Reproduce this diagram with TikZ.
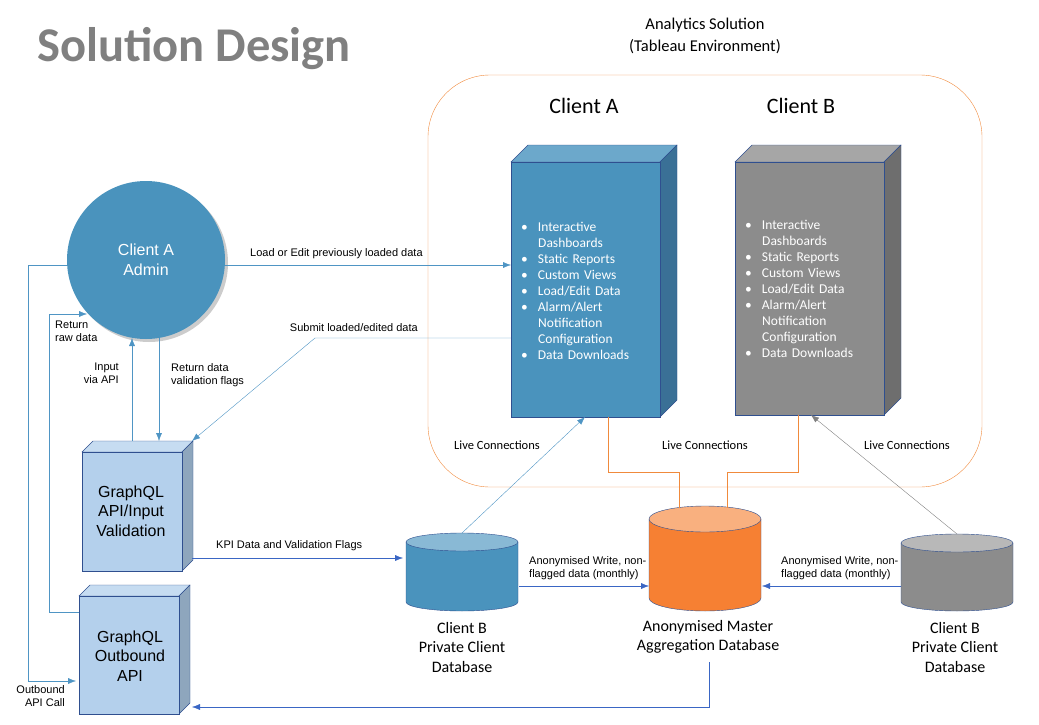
\documentclass[tikz,border=0pt]{standalone}
\usepackage{fontspec}
\setmainfont{Liberation Sans}
\newfontfamily\calfont{Carlito}
\usetikzlibrary{arrows.meta,shadows}
\definecolor{steel}{HTML}{4A93BD}
\definecolor{steeltop}{HTML}{6CA8CB}
\definecolor{steelside}{HTML}{3A7096}
\definecolor{greyfront}{HTML}{8C8C8C}
\definecolor{greytop}{HTML}{A6A6A6}
\definecolor{greyside}{HTML}{6E6E6E}
\definecolor{paleblue}{HTML}{B4D0EC}
\definecolor{paletop}{HTML}{C6DCF1}
\definecolor{paleside}{HTML}{8EA6BD}
\definecolor{edgeblue}{HTML}{2F4F8F}
\definecolor{linkblue}{HTML}{4F95C4}
\definecolor{darkblue}{HTML}{3A66C4}
\definecolor{envorange}{HTML}{F08A3C}
\definecolor{dborange}{HTML}{F68033}
\definecolor{dbtop}{HTML}{F9B07F}
\tikzset{
  lbl/.style={font=\fontsize{11}{13}\selectfont,align=left,inner sep=0pt},
  link/.style={draw=linkblue,-{Latex[length=8pt,width=6pt]}},
  dlink/.style={draw=darkblue,-{Latex[length=8pt,width=6pt]}},
  box/.style={font=\fontsize{16}{19.5}\selectfont,align=center},
  bul/.style={font=\calfont\fontsize{13.5}{16}\selectfont,text=white,align=left,inner sep=0pt,anchor=north west,text width=115pt}
}
% cuboid: name, x1, y1, x2, y2, depth, front, top, side
\newcommand{\cuboid}[9]{%
  \fill[#8,draw=edgeblue] (#2,#3) -- ++(#6,-#6) -- (#4+#6,#3-#6) -- (#4,#3) -- cycle;
  \fill[#9,draw=edgeblue] (#4,#3) -- (#4+#6,#3-#6) -- (#4+#6,#5-#6) -- (#4,#5) -- cycle;
  \node[fill=#7,draw=edgeblue,minimum width=#4pt-#2pt,minimum height=#5pt-#3pt,anchor=north west,inner sep=0pt] (#1) at (#2,#3) {};}
% drum: name, centre x, top y, bottom y, half width, ry, body, top
\newcommand{\drum}[8]{%
  \fill[#7,draw=edgeblue] (#2-#5,#3) -- (#2-#5,#4) arc[start angle=180,end angle=0,x radius=#5,y radius=#6] -- (#2+#5,#3) -- cycle;
  \fill[#8,draw=edgeblue] (#2,#3) ellipse[x radius=#5,y radius=#6];
  \coordinate (#1) at (#2,#3);}
\begin{document}
\begin{tikzpicture}[x=1pt,y=-1pt]
\useasboundingbox (0,0) rectangle (1039,725);
% title
\node[font=\calfont\bfseries\fontsize{48.5}{54}\selectfont,text=black!50,anchor=west,inner sep=0pt] (title) at (37,49) {Solution Design};
\node[font=\calfont\fontsize{16.5}{22}\selectfont,align=center] (env) at (705,36) {Analytics Solution\\(Tableau Environment)};
% environment
\draw[envorange,rounded corners=62pt] (428,75) rectangle (982,487);
\node[font=\calfont\fontsize{22}{26}\selectfont] (clientA) at (584,106) {Client A};
\node[font=\calfont\fontsize{22}{26}\selectfont] (clientB) at (801,106) {Client B};
% tableau boxes
\cuboid{tabA}{511}{162}{660}{417}{17}{steel}{steeltop}{steelside}
\cuboid{tabB}{735}{162}{884}{415}{17}{greyfront}{greytop}{greyside}
\node[bul] (listA) at (521,222) {\textbullet\hspace{10pt}Interactive\\\hspace{17pt}Dashboards\\\textbullet\hspace{10pt}Static Reports\\\textbullet\hspace{10pt}Custom Views\\\textbullet\hspace{10pt}Load/Edit Data\\\textbullet\hspace{10pt}Alarm/Alert\\\hspace{17pt}Notification\\\hspace{17pt}Configuration\\\textbullet\hspace{10pt}Data Downloads};
\node[bul] (listB) at (745,220) {\textbullet\hspace{10pt}Interactive\\\hspace{17pt}Dashboards\\\textbullet\hspace{10pt}Static Reports\\\textbullet\hspace{10pt}Custom Views\\\textbullet\hspace{10pt}Load/Edit Data\\\textbullet\hspace{10pt}Alarm/Alert\\\hspace{17pt}Notification\\\hspace{17pt}Configuration\\\textbullet\hspace{10pt}Data Downloads};
% admin
\node[circle,fill=steel,minimum size=158pt,drop shadow={shadow xshift=3pt,shadow yshift=-3pt,fill=black!40},font=\fontsize{16}{19.5}\selectfont,text=white,align=center] (admin) at (146,260) {Client A\\Admin};
% api boxes
\cuboid{valid}{82}{452}{182}{571}{11}{paleblue}{paletop}{paleside}
\node[box] (validtxt) at (131,511) {GraphQL\\API/Input\\Validation};
\cuboid{outb}{79}{596}{179}{714}{11}{paleblue}{paletop}{paleside}
\node[box] (outbtxt) at (130,656) {GraphQL\\Outbound\\API};
% databases
\drum{dbB}{462}{542}{602}{56}{9}{steel}{steeltop!80!white}
\drum{dbM}{705}{519}{598}{56}{13}{dborange}{dbtop}
\drum{dbC}{957}{543}{602}{56}{9}{greyfront}{greytop!80!white}
\node[font=\calfont\fontsize{16}{19.5}\selectfont,align=center] (dbBtxt) at (462,647) {Client B\\Private Client\\Database};
\node[font=\calfont\fontsize{16}{19.5}\selectfont,align=center] (dbMtxt) at (708,637) {Anonymised Master\\Aggregation Database};
\node[font=\calfont\fontsize{16}{19.5}\selectfont,align=center] (dbCtxt) at (955,647) {Client B\\Private Client\\Database};
% live connections
\draw[envorange] (608,417) -- (608,472) -- (679,472) -- (679,508);
\draw[envorange] (798,415) -- (798,472) -- (727,472) -- (727,508);
\draw[link] (462,533) -- (585,417);
\draw[draw=gray,-{Latex[length=8pt,width=6pt]}] (957,534) -- (811,415);
\node[font=\calfont\fontsize{12.5}{15}\selectfont] (live1) at (497,445) {Live Connections};
\node[font=\calfont\fontsize{12.5}{15}\selectfont] (live2) at (705,445) {Live Connections};
\node[font=\calfont\fontsize{12.5}{15}\selectfont] (live3) at (907,445) {Live Connections};
% admin links
\coordinate (loadL) at (225,265);
\draw[link] (loadL) -- (511,265);
\node[lbl,anchor=south west] (loadtxt) at (250,259) {Load or Edit previously loaded data};
\draw[link] (511,338) -- (315,338) -- (192,441);
\node[lbl,anchor=south east] (subtxt) at (418,332) {Submit loaded/edited data};
\draw[link] (132,441) -- (132,338);
\node[lbl,anchor=north east,align=right] (inptxt) at (119,363) {Input\\via API};
\draw[link] (159,338) -- (159,441);
\node[lbl,anchor=north west] (rettxt) at (171,363) {Return data\\validation flags};
\draw[link] (67,265) -- (28,265) -- (28,681) -- (76,681);
\node[lbl,anchor=north east,align=right] (calltxt) at (65,685) {Outbound\\API Call};
\draw[link] (79,612) -- (49,612) -- (49,314) -- (87,314);
\node[lbl,anchor=north west] (rawtxt) at (55,321) {Return\\raw data};
% data flows
\draw[dlink] (192,558) -- (403,558);
\node[lbl,anchor=south west] (kpitxt) at (216,551) {KPI Data and Validation Flags};
\draw[dlink] (519,586) -- (649,586);
\node[lbl,anchor=south west] (anon1) at (529,580) {Anonymised Write, non-\\flagged data (monthly)};
\draw[dlink] (901,586) -- (762,586);
\node[lbl,anchor=south west] (anon2) at (781,580) {Anonymised Write, non-\\flagged data (monthly)};
\draw[dlink] (709,662) -- (709,707) -- (192,707);
\end{tikzpicture}
\end{document}
